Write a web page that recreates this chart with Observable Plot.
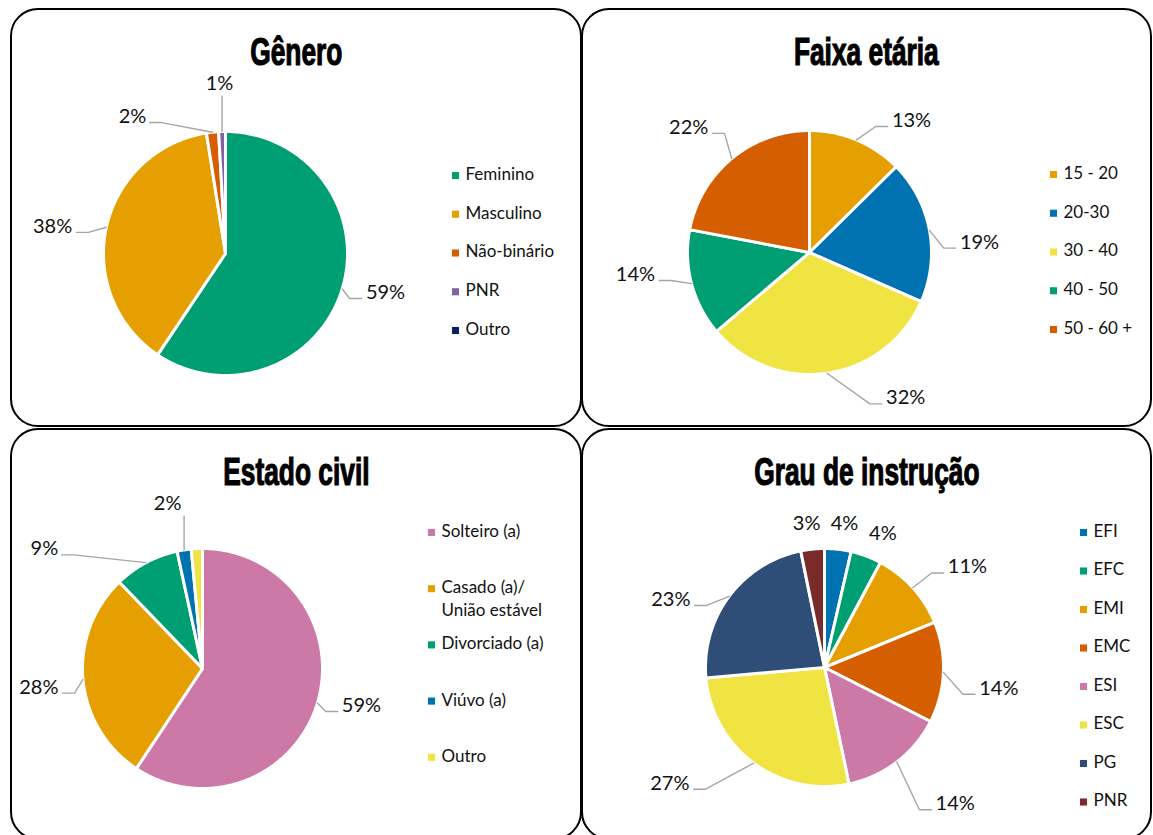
<!DOCTYPE html>
<html><head><meta charset="utf-8">
<script src="https://cdn.jsdelivr.net/npm/d3@7"></script>
<script src="https://cdn.jsdelivr.net/npm/@observablehq/plot@0.6"></script>
<style>
html,body{margin:0;padding:0;background:#fff;}
body{width:1153px;height:835px;position:relative;overflow:hidden;font-family:Lato,sans-serif;}
.panel{position:absolute;}
.frame{position:absolute;left:0;top:0;right:0;bottom:0;border:2px solid #000;border-radius:28px;box-sizing:border-box;background:#fff;}
.title{position:absolute;left:0;right:0;top:0;height:66px;text-align:center;}
.title span{display:inline-block;font-family:"Liberation Sans",Arial,sans-serif;font-weight:bold;font-size:39px;line-height:44px;padding-top:22px;transform:scaleX(0.675);color:#000;white-space:nowrap;-webkit-text-stroke:1.2px #000;}
.chart{position:absolute;left:0;top:66px;}
</style></head><body>
<script>
// ---------- data ----------
const generoCats = ["Feminino", "Masculino", "Não-binário", "PNR", "Outro"];
const generoVals = [59.4, 38.1, 1.6, 0.9, 0];
const generoColors = ["#009E73", "#E69F00", "#D55E00", "#8064A2", "#0D1F5C"];

const faixaCats = ["15 - 20", "20-30", "30 - 40", "40 - 50", "50 - 60 +"];
const faixaVals = [12.6, 19.0, 32.2, 14.2, 22.0];
const faixaColors = ["#E69F00", "#0072B2", "#F0E442", "#009E73", "#D55E00"];

const civilCats = ["Solteiro (a)", "Casado (a)/\nUnião estável", "Divorciado (a)", "Viúvo (a)", "Outro"];
const civilVals = [59.3, 28.5, 8.8, 1.9, 1.5];
const civilColors = ["#CC79A7", "#E69F00", "#009E73", "#0072B2", "#F0E442"];

const grauCats = ["EFI", "EFC", "EMI", "EMC", "ESI", "ESC", "PG", "PNR"];
const grauVals = [3.6, 4.2, 11.0, 13.7, 14.2, 26.9, 23.2, 3.2];
const grauColors = ["#0072B2", "#009E73", "#E69F00", "#D55E00", "#CC79A7", "#F0E442", "#2E4E77", "#7A2A2A"];

// ---------- layout (label placement: [angle deg from top, radius factor]) ----------
const generoLabelPos = [[103.7, 1.35], [278.9, 1.435], [325.8, 1.357], [358, 1.397], null];
const faixaLabelPos = [[37.7, 1.367], [86.5, 1.396], [146.5, 1.429], [262.8, 1.438], [316, 1.426]];
const civilLabelPos = [[103.1, 1.36], [263.5, 1.373], [307.1, 1.652], [348.1, 1.408], null];
const grauLabelPos = [[7.9, 1.222], [23.5, 1.23], [54.9, 1.468], [96.8, 1.475], [136.2, 1.587], [233.2, 1.623], [293.9, 1.412], [352.9, 1.217]];

const TITLE_H = 66;
const panels = [
  {title: "Gênero", cats: generoCats, vals: generoVals, colors: generoColors, labelPos: generoLabelPos,
   left: 10, top: 8, width: 572, height: 419, cx: 215, cy: 245, r: 122, legX: 445, legY: 167, legStep: 38.75},
  {title: "Faixa etária", cats: faixaCats, vals: faixaVals, colors: faixaColors, labelPos: faixaLabelPos,
   left: 581, top: 8, width: 571, height: 419, cx: 228, cy: 244, r: 122, legX: 472, legY: 166, legStep: 38.75},
  {title: "Estado civil", cats: civilCats, vals: civilVals, colors: civilColors, labelPos: civilLabelPos,
   left: 10, top: 428, width: 572, height: 412, cx: 192, cy: 240, r: 120, legX: 421, legY: 104, legStep: 56.2},
  {title: "Grau de instrução", cats: grauCats, vals: grauVals, colors: grauColors, labelPos: grauLabelPos,
   left: 581, top: 428, width: 571, height: 412, cx: 243, cy: 239, r: 119, legX: 502, legY: 104, legStep: 38.5}
];

const pct = d3.format(".0%");
const rad = d => d * Math.PI / 180;

function drawPanel(p) {
  const div = document.createElement("div");
  div.className = "panel";
  Object.assign(div.style, {left: p.left + "px", top: p.top + "px", width: p.width + "px", height: p.height + "px"});
  const frame = document.createElement("div");
  frame.className = "frame";
  div.appendChild(frame);
  const title = document.createElement("div");
  title.className = "title";
  const span = document.createElement("span");
  span.textContent = p.title;
  title.appendChild(span);
  div.appendChild(title);

  const H = p.height - TITLE_H;
  const cyS = p.cy - TITLE_H;
  const total = d3.sum(p.vals);
  const arcs = d3.pie().sort(null).value(d => d)(p.vals);

  const slicePts = [];
  const labels = [];
  const leaders = [];
  arcs.forEach((a, i) => {
    const span = a.endAngle - a.startAngle;
    if (span <= 0) return;
    const cat = p.cats[i];
    slicePts.push({cat, x: 0, y: 0});
    const n = Math.max(2, Math.ceil(span / 0.01));
    for (let k = 0; k <= n; k++) {
      const t = a.startAngle + span * k / n;
      slicePts.push({cat, x: p.r * Math.sin(t), y: -p.r * Math.cos(t)});
    }
    const lp = p.labelPos[i];
    if (!lp) return;
    const la = rad(lp[0]);
    const lx = lp[1] * p.r * Math.sin(la);
    const ly = -lp[1] * p.r * Math.cos(la);
    const text = pct(p.vals[i] / total);
    labels.push({x: lx, y: ly, text});
    if (lp[1] > 1.3) {
      const mid = (a.startAngle + a.endAngle) / 2;
      const x0 = p.r * Math.sin(mid), y0 = -p.r * Math.cos(mid);
      const hw = text.length * 6.6;
      const ang = Math.min(lp[0], 360 - lp[0]);
      if (ang < 15) {
        leaders.push({id: i, x: x0, y: y0}, {id: i, x: x0, y: ly + 13});
      } else {
        const right = lx > 0;
        const x2 = right ? lx - hw - 4 : lx + hw + 4;
        const x1 = right ? x2 - 12 : x2 + 12;
        leaders.push({id: i, x: x0, y: y0}, {id: i, x: x1, y: ly + 6}, {id: i, x: x2, y: ly + 6});
      }
    }
  });

  const legend = p.cats.map((c, i) => ({cat: c, x: p.legX - p.cx, y: p.legY - p.cy + i * p.legStep}));

  const chart = Plot.plot({
    width: p.width,
    height: H,
    margin: 0,
    x: {domain: [-p.cx, p.width - p.cx], range: [0, p.width], axis: null},
    y: {domain: [-cyS, H - cyS], range: [0, H], axis: null},
    color: {domain: p.cats, range: p.colors},
    style: {background: "transparent", overflow: "visible", fontFamily: "Lato, sans-serif", color: "#111"},
    marks: [
      Plot.line(slicePts, {x: "x", y: "y", z: "cat", fill: "cat", stroke: "white", strokeWidth: 3, curve: "linear-closed", strokeLinejoin: "round"}),
      Plot.line(leaders, {x: "x", y: "y", z: "id", stroke: "#A6A6A6", strokeWidth: 1.4}),
      Plot.text(labels, {x: "x", y: "y", text: "text", fontSize: 20, fill: "#111"}),
      Plot.dot(legend, {x: "x", y: "y", fill: "cat", symbol: "square", r: 4}),
      Plot.text(legend, {x: d => d.x + 10, y: "y", text: "cat", textAnchor: "start", lineAnchor: "top", lineHeight: 1.36, dy: -12, fontSize: 17, fill: "#111"})
    ]
  });
  chart.classList.add("chart");
  chart.style.position = "absolute";
  chart.style.left = "0px";
  chart.style.top = TITLE_H + "px";
  div.appendChild(chart);
  document.body.appendChild(div);
}

panels.forEach(drawPanel);
</script>
</body></html>
